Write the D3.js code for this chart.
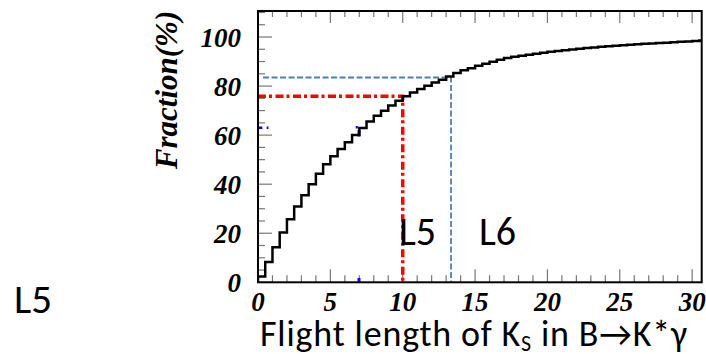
<!DOCTYPE html>
<html>
<head>
<meta charset="utf-8">
<script src="https://cdn.jsdelivr.net/npm/d3@7"></script>
<style>
  body { margin: 0; background: #fff; }
  svg { display: block; }
</style>
</head>
<body>
<script>
// cumulative fraction (%) per 0.5 bin of flight length
const binWidth = 0.5;
const fraction = [
  2.4, 8.3, 14.3, 20.3, 25.7, 30.9, 35.5, 40.0, 44.3, 48.1,
  51.4, 54.3, 57.1, 60.1, 62.9, 65.6, 67.9, 69.9, 72.1, 74.0,
  75.8, 77.4, 78.8, 80.1, 81.5, 82.6, 83.9, 85.3, 86.4, 87.3,
  88.3, 89.1, 89.9, 90.7, 91.4, 91.9, 92.4, 92.8, 93.2, 93.6,
  94.0, 94.3, 94.6, 94.9, 95.2, 95.5, 95.7, 96.0, 96.2, 96.4,
  96.6, 96.8, 97.0, 97.2, 97.4, 97.6, 97.7, 97.9, 98.1, 98.2,
  98.4, 98.6
];
const xTicks = [0, 5, 10, 15, 20, 25, 30];
const yTicks = [0, 20, 40, 60, 80, 100];
// cut lines (flight length, fraction)
const redCut = [10, 75.8];
const blueCut = [13.34, 83.5];
// leftover bits of a blue marker at about (7, 63)
const blueBitsH = [[0, 0.3, 63], [0.6, 0.72, 63], [6.75, 6.9, 63.2]];
const blueBitsV = [[6.98, 59.4, 62.1], [6.98, 0, 1.8]];

const W = 706, H = 354;
const svg = d3.select("body").append("svg")
    .attr("width", W)
    .attr("height", H);

const x = d3.scaleLinear().domain([0, 30.66]).range([258, 701.7]);
const y = d3.scaleLinear().domain([0, 110.6]).range([282.3, 11]);

svg.append("defs").append("clipPath").attr("id", "plotclip")
    .append("rect")
    .attr("x", x(0)).attr("y", y(110.6))
    .attr("width", x(30.66) - x(0)).attr("height", y(0) - y(110.6));

// ticks (inward, left / bottom / top)
const tickCol = "#777";
const xMinor = d3.range(0, 31, 1);
const yMinor = d3.range(0, 111, 5);

svg.append("g").selectAll("line.xb")
    .data(xMinor)
    .join("line")
    .attr("x1", d => x(d)).attr("x2", d => x(d))
    .attr("y1", y(0))
    .attr("y2", d => y(0) - (d % 5 === 0 ? 13 : 7))
    .attr("stroke", tickCol).attr("stroke-width", 1.2);

svg.append("g").selectAll("line.xt")
    .data(xMinor)
    .join("line")
    .attr("x1", d => x(d)).attr("x2", d => x(d))
    .attr("y1", y(110.6))
    .attr("y2", d => y(110.6) + (d % 5 === 0 ? 12 : 6))
    .attr("stroke", tickCol).attr("stroke-width", 1.2);

svg.append("g").selectAll("line.yl")
    .data(yMinor)
    .join("line")
    .attr("y1", d => y(d)).attr("y2", d => y(d))
    .attr("x1", x(0))
    .attr("x2", d => x(0) + (d % 20 === 0 ? 14 : 7))
    .attr("stroke", tickCol).attr("stroke-width", 1.2);

// cut lines
const plot = svg.append("g").attr("clip-path", "url(#plotclip)");

plot.append("path")
    .attr("d", d3.line()([[x(0.35), y(blueCut[1])], [x(blueCut[0]), y(blueCut[1])], [x(blueCut[0]), y(0)]]))
    .attr("fill", "none")
    .attr("stroke", "#4a7ebb")
    .attr("stroke-width", 1.8)
    .attr("stroke-dasharray", "6,2.5");

plot.append("path")
    .attr("d", d3.line()([[x(0), y(redCut[1])], [x(redCut[0]), y(redCut[1])], [x(redCut[0]), y(0)]]))
    .attr("fill", "none")
    .attr("stroke", "#ff0000")
    .attr("stroke-width", 3.5)
    .attr("stroke-dasharray", "8,3,3,3.5");

plot.append("g").selectAll("line")
    .data(blueBitsH)
    .join("line")
    .attr("x1", d => x(d[0])).attr("x2", d => x(d[1]))
    .attr("y1", d => y(d[2])).attr("y2", d => y(d[2]))
    .attr("stroke", "#0000ff").attr("stroke-width", 2.5);

plot.append("g").selectAll("line")
    .data(blueBitsV)
    .join("line")
    .attr("x1", d => x(d[0])).attr("x2", d => x(d[0]))
    .attr("y1", d => y(d[1])).attr("y2", d => y(d[2]))
    .attr("stroke", "#0000ff").attr("stroke-width", 3);

// histogram as a step line
const pts = [[0, 0]];
fraction.forEach((v, i) => {
    pts.push([i * binWidth, v]);
    pts.push([(i + 1) * binWidth, v]);
});
plot.append("path")
    .attr("d", d3.line().x(d => x(d[0])).y(d => y(d[1]))(pts))
    .attr("fill", "none")
    .attr("stroke", "#000")
    .attr("stroke-width", 2.5);

// frame
svg.append("rect")
    .attr("x", x(0)).attr("y", y(110.6))
    .attr("width", x(30.66) - x(0)).attr("height", y(0) - y(110.6))
    .attr("fill", "none")
    .attr("stroke", "#000")
    .attr("stroke-width", 2);

// tick labels
const numFont = "'Liberation Serif', 'DejaVu Serif', serif";
svg.append("g").selectAll("text")
    .data(xTicks)
    .join("text")
    .attr("x", d => x(d))
    .attr("y", 311)
    .attr("text-anchor", "middle")
    .attr("font-family", numFont)
    .attr("font-weight", "bold")
    .attr("font-style", "italic")
    .attr("font-size", 27)
    .text(d => d);

svg.append("g").selectAll("text")
    .data(yTicks)
    .join("text")
    .attr("x", 241)
    .attr("y", d => y(d) + 10)
    .attr("text-anchor", "end")
    .attr("font-family", numFont)
    .attr("font-weight", "bold")
    .attr("font-style", "italic")
    .attr("font-size", 27)
    .text(d => d);

svg.append("text")
    .attr("transform", "translate(177,90) rotate(-90)")
    .attr("text-anchor", "middle")
    .attr("font-family", numFont)
    .attr("font-weight", "bold")
    .attr("font-style", "italic")
    .attr("font-size", 31)
    .text("Fraction(%)");

// annotations
const sansFont = "Carlito, 'Open Sans', 'Noto Sans', sans-serif";
svg.append("text")
    .attr("x", 14).attr("y", 313)
    .attr("font-family", sansFont)
    .attr("font-size", 41)
    .text("L5");

svg.append("text")
    .attr("x", 399).attr("y", 245)
    .attr("font-family", sansFont)
    .attr("font-size", 40)
    .text("L5");

svg.append("text")
    .attr("x", 479).attr("y", 245)
    .attr("font-family", sansFont)
    .attr("font-size", 40)
    .text("L6");

const xTitle = svg.append("text")
    .attr("x", 260).attr("y", 346)
    .attr("font-family", sansFont)
    .attr("font-size", 36)
    .attr("textLength", 427)
    .attr("lengthAdjust", "spacing");
xTitle.append("tspan").text("Flight length of K");
xTitle.append("tspan").attr("dy", 5).attr("font-size", 22).text("S");
xTitle.append("tspan").attr("dy", -5).text(" in B\u2192K*\u03b3");
</script>
</body>
</html>
